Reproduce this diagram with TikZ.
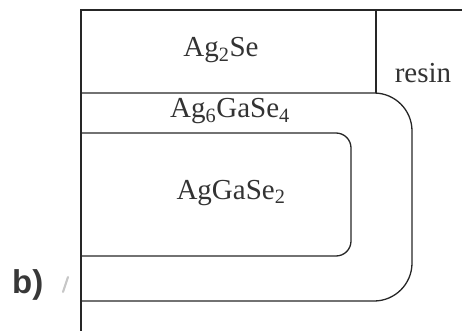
\documentclass[tikz,border=0pt]{standalone}
\usepackage{fontspec}
\setmainfont{Liberation Serif}
\newfontfamily\labelsans{Liberation Sans}
\newcommand{\chemsub}[1]{\textsubscript{#1}}
\begin{document}
\begin{tikzpicture}[x=1pt,y=-1pt,
  layer/.style={line width=1.3pt,draw=black!85},
  phase/.style={font=\fontsize{29}{32}\selectfont,text=black!80,anchor=base,inner sep=0pt},
  panel/.style={font=\labelsans\bfseries\fontsize{33}{36}\selectfont,text=black!78,anchor=base west,inner sep=0pt}]
  \useasboundingbox (0,0) rectangle (462,331);
  % frame: sample edge and top of the resin block
  \draw[layer] (81,331) -- (81,10) -- (462,10);
  % Ag2Se layer boundary
  \draw[layer] (376,10) -- (376,93);
  % outer shell of the reaction layer
  \draw[layer,rounded corners=38pt] (81,93) -- (412,93) -- (412,301) -- (81,301);
  % core of the crystal
  \draw[layer,rounded corners=15pt] (81,133) -- (351,133) -- (351,256) -- (81,256);
  % labels
  \node[phase] (agse) at (221,57) {Ag\chemsub{2}Se};
  \node[phase] (resin) at (423,83) {resin};
  \node[phase] (shell) at (230,118) {Ag\chemsub{6}GaSe\chemsub{4}};
  \node[phase] (core) at (231,199) {AgGaSe\chemsub{2}};
  \node[panel] (tag) at (12,293) {b)};
  \draw[line width=2.2pt,black!22,line cap=round] (68,277) -- (63,292);
\end{tikzpicture}
\end{document}
